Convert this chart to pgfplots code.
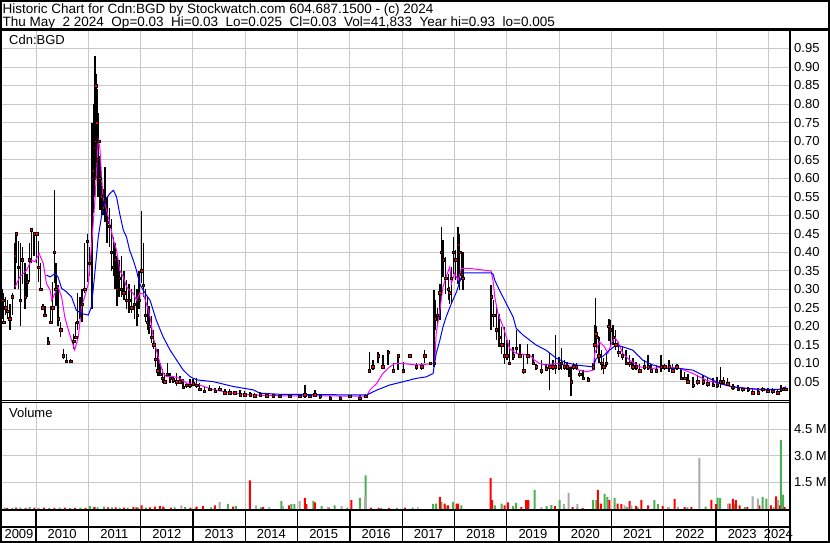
\documentclass[border=0pt]{standalone}
\usepackage{pgfplots}
\pgfplotsset{compat=1.18}
\usepackage{pgfplotstable}
\usepackage{fontspec}
\setmainfont{Liberation Sans}

\definecolor{gridgray}{RGB}{200,200,200}
\definecolor{volgreen}{RGB}{76,175,80}
\definecolor{volgray}{RGB}{170,170,170}
\definecolor{mamag}{RGB}{255,0,255}
\definecolor{mablue}{RGB}{0,0,255}
\definecolor{barred}{RGB}{255,0,0}

% daily bars: low, high, close
\pgfplotstableread{
x lo hi cl
2009.33 0.245 0.36 0.30
2009.36 0.22 0.30 0.27
2009.38 0.21 0.29 0.21
2009.42 0.23 0.28 0.25
2009.46 0.22 0.27 0.24
2009.50 0.19 0.26 0.22
2009.55 0.23 0.29 0.28
2009.60 0.30 0.425 0.39
2009.62 0.37 0.45 0.45
2009.66 0.30 0.43 0.36
2009.70 0.20 0.425 0.27
2009.74 0.315 0.415 0.38
2009.79 0.245 0.37 0.28
2009.83 0.28 0.34 0.32
2009.87 0.32 0.425 0.38
2009.91 0.37 0.465 0.46
2009.96 0.39 0.45 0.45
2010.01 0.37 0.45 0.45
2010.05 0.32 0.43 0.36
2010.09 0.30 0.37 0.30
2010.13 0.245 0.26 0.25
2010.17 0.23 0.255 0.23
2010.23 0.15 0.17 0.155
2010.28 0.21 0.255 0.21
2010.32 0.21 0.32 0.25
2010.35 0.317 0.568 0.40
2010.38 0.255 0.37 0.30
2010.42 0.20 0.31 0.22
2010.47 0.17 0.21 0.19
2010.52 0.11 0.137 0.12
2010.58 0.105 0.125 0.105
2010.66 0.10 0.11 0.105
2010.72 0.137 0.18 0.16
2010.76 0.165 0.21 0.17
2010.79 0.19 0.29 0.21
2010.84 0.22 0.28 0.23
2010.88 0.21 0.30 0.26
2010.93 0.29 0.425 0.30
2010.98 0.32 0.45 0.43
2011.02 0.335 0.415 0.37
2011.07 0.245 0.748 0.60
2011.09 0.505 0.748 0.62
2011.11 0.55 0.80 0.68
2011.13 0.595 0.93 0.70
2011.14 0.64 0.93 0.85
2011.16 0.60 0.88 0.75
2011.17 0.55 0.84 0.65
2011.19 0.56 0.72 0.70
2011.20 0.55 0.775 0.70
2011.22 0.515 0.66 0.60
2011.25 0.50 0.62 0.55
2011.28 0.50 0.57 0.52
2011.32 0.48 0.63 0.54
2011.36 0.425 0.55 0.48
2011.40 0.415 0.52 0.47
2011.44 0.35 0.49 0.40
2011.48 0.335 0.44 0.36
2011.51 0.30 0.425 0.38
2011.55 0.255 0.39 0.30
2011.59 0.28 0.38 0.33
2011.63 0.28 0.39 0.30
2011.68 0.27 0.35 0.29
2011.73 0.245 0.325 0.27
2011.78 0.235 0.315 0.27
2011.83 0.235 0.30 0.25
2011.88 0.22 0.31 0.26
2011.93 0.20 0.30 0.23
2011.97 0.245 0.35 0.27
2012.02 0.317 0.51 0.35
2012.05 0.28 0.425 0.31
2012.09 0.21 0.30 0.23
2012.13 0.19 0.28 0.21
2012.16 0.18 0.255 0.20
2012.21 0.155 0.227 0.17
2012.25 0.137 0.19 0.15
2012.29 0.09 0.155 0.11
2012.33 0.065 0.137 0.08
2012.37 0.065 0.10 0.07
2012.42 0.047 0.083 0.06
2012.46 0.047 0.074 0.05
2012.51 0.065 0.10 0.07
2012.56 0.047 0.074 0.06
2012.62 0.047 0.065 0.055
2012.69 0.038 0.074 0.05
2012.75 0.047 0.065 0.05
2012.81 0.029 0.056 0.035
2012.88 0.033 0.047 0.04
2012.94 0.033 0.056 0.04
2013.00 0.038 0.056 0.045
2013.07 0.033 0.06 0.04
2013.13 0.025 0.047 0.03
2013.22 0.02 0.038 0.025
2013.32 0.025 0.042 0.03
2013.42 0.02 0.034 0.025
2013.51 0.025 0.038 0.03
2013.61 0.018 0.031 0.02
2013.70 0.015 0.029 0.02
2013.80 0.015 0.025 0.02
2013.90 0.013 0.027 0.015
2013.99 0.013 0.025 0.015
2014.09 0.012 0.021 0.015
2014.18 0.010 0.020 0.012
2014.28 0.012 0.021 0.015
2014.41 0.010 0.020 0.012
2014.53 0.010 0.018 0.012
2014.66 0.005 0.018 0.010
2014.85 0.005 0.015 0.010
2015.04 0.007 0.018 0.010
2015.14 0.007 0.041 0.015
2015.23 0.005 0.018 0.010
2015.33 0.009 0.027 0.015
2015.43 0.003 0.014 0.010
2015.62 0.002 0.011 0.005
2015.81 0.002 0.011 0.005
2016.00 0.005 0.014 0.010
2016.19 0.002 0.014 0.005
2016.30 0.008 0.017 0.010
2016.37 0.077 0.131 0.080
2016.44 0.081 0.108 0.090
2016.54 0.100 0.131 0.120
2016.63 0.090 0.122 0.090
2016.73 0.095 0.135 0.130
2016.83 0.077 0.100 0.080
2016.92 0.081 0.122 0.120
2017.02 0.077 0.104 0.080
2017.14 0.117 0.122 0.120
2017.27 0.081 0.100 0.090
2017.37 0.081 0.100 0.090
2017.43 0.100 0.135 0.120
2017.53 0.095 0.100 0.100
2017.61 0.090 0.297 0.100
2017.63 0.19 0.27 0.22
2017.67 0.20 0.25 0.23
2017.72 0.216 0.315 0.29
2017.75 0.27 0.468 0.40
2017.78 0.333 0.432 0.38
2017.83 0.288 0.387 0.33
2017.88 0.27 0.342 0.30
2017.91 0.261 0.306 0.29
2017.94 0.261 0.36 0.33
2017.98 0.342 0.441 0.40
2018.02 0.324 0.405 0.38
2018.07 0.315 0.468 0.42
2018.10 0.297 0.45 0.40
2018.14 0.324 0.396 0.34
2018.16 0.297 0.40 0.33
2018.70 0.19 0.311 0.28
2018.75 0.198 0.27 0.23
2018.80 0.162 0.252 0.19
2018.85 0.144 0.234 0.17
2018.90 0.126 0.198 0.15
2018.96 0.099 0.198 0.12
2019.00 0.108 0.162 0.12
2019.05 0.099 0.162 0.10
2019.12 0.108 0.144 0.12
2019.18 0.126 0.189 0.14
2019.25 0.117 0.153 0.12
2019.32 0.072 0.126 0.08
2019.40 0.099 0.153 0.12
2019.50 0.099 0.126 0.10
2019.56 0.081 0.099 0.09
2019.66 0.072 0.108 0.08
2019.75 0.081 0.099 0.085
2019.82 0.027 0.127 0.09
2019.88 0.081 0.108 0.09
2019.93 0.072 0.176 0.09
2020.00 0.081 0.117 0.09
2020.04 0.081 0.14 0.10
2020.10 0.081 0.108 0.09
2020.15 0.081 0.104 0.09
2020.19 0.063 0.09 0.07
2020.23 0.010 0.09 0.05
2020.28 0.081 0.10 0.09
2020.33 0.081 0.10 0.09
2020.39 0.063 0.081 0.07
2020.46 0.054 0.081 0.06
2020.55 0.050 0.063 0.055
2020.65 0.081 0.10 0.09
2020.68 0.081 0.203 0.15
2020.70 0.153 0.275 0.18
2020.72 0.127 0.20 0.17
2020.76 0.10 0.171 0.12
2020.81 0.081 0.135 0.10
2020.85 0.072 0.113 0.09
2020.90 0.09 0.126 0.10
2020.95 0.16 0.22 0.20
2020.98 0.144 0.216 0.19
2021.03 0.149 0.203 0.17
2021.08 0.135 0.19 0.15
2021.14 0.117 0.158 0.13
2021.21 0.108 0.144 0.12
2021.28 0.095 0.135 0.10
2021.35 0.09 0.122 0.10
2021.41 0.081 0.113 0.09
2021.47 0.081 0.104 0.09
2021.54 0.077 0.099 0.08
2021.63 0.081 0.108 0.09
2021.70 0.081 0.122 0.09
2021.76 0.077 0.099 0.08
2021.86 0.077 0.095 0.08
2021.95 0.077 0.122 0.09
2022.02 0.081 0.099 0.09
2022.10 0.077 0.108 0.09
2022.17 0.077 0.099 0.08
2022.25 0.081 0.099 0.09
2022.33 0.054 0.086 0.06
2022.40 0.054 0.077 0.06
2022.46 0.045 0.072 0.05
2022.56 0.032 0.063 0.04
2022.65 0.041 0.068 0.05
2022.75 0.041 0.068 0.05
2022.84 0.036 0.063 0.045
2022.94 0.036 0.059 0.04
2023.02 0.032 0.063 0.04
2023.08 0.032 0.09 0.05
2023.14 0.045 0.063 0.05
2023.22 0.041 0.059 0.045
2023.32 0.027 0.045 0.035
2023.42 0.027 0.041 0.03
2023.51 0.023 0.036 0.03
2023.61 0.023 0.036 0.03
2023.70 0.018 0.032 0.02
2023.80 0.014 0.032 0.02
2023.89 0.023 0.036 0.03
2023.99 0.023 0.032 0.025
2024.08 0.018 0.032 0.025
2024.18 0.014 0.027 0.02
2024.24 0.023 0.041 0.03
2024.29 0.027 0.036 0.03
2024.33 0.027 0.036 0.03
}\pricedata

% short moving average (magenta)
\pgfplotstableread{
x y
2009.60 0.306
2009.69 0.333
2009.82 0.351
2009.91 0.378
2009.98 0.374
2010.06 0.396
2010.14 0.369
2010.20 0.315
2010.27 0.297
2010.30 0.270
2010.36 0.288
2010.42 0.306
2010.49 0.279
2010.55 0.225
2010.62 0.189
2010.68 0.162
2010.74 0.136
2010.81 0.171
2010.87 0.252
2010.93 0.279
2011.00 0.315
2011.06 0.414
2011.13 0.549
2011.19 0.702
2011.22 0.684
2011.25 0.612
2011.28 0.549
2011.35 0.513
2011.41 0.477
2011.48 0.432
2011.54 0.405
2011.60 0.351
2011.67 0.333
2011.73 0.306
2011.79 0.297
2011.86 0.288
2011.92 0.270
2011.98 0.288
2012.05 0.288
2012.11 0.261
2012.18 0.225
2012.24 0.171
2012.30 0.136
2012.37 0.100
2012.43 0.073
2012.49 0.064
2012.62 0.064
2012.75 0.059
2012.88 0.046
2013.00 0.046
2013.13 0.041
2013.39 0.028
2013.77 0.019
2014.15 0.014
2014.66 0.012
2016.32 0.011
2016.38 0.027
2016.51 0.045
2016.63 0.072
2016.76 0.090
2016.86 0.099
2017.02 0.099
2017.27 0.095
2017.62 0.099
2017.65 0.180
2017.72 0.243
2017.78 0.306
2017.84 0.333
2017.91 0.360
2017.94 0.315
2018.00 0.342
2018.07 0.324
2018.13 0.356
2018.29 0.356
2018.70 0.349
2018.74 0.320
2018.77 0.279
2018.83 0.234
2018.93 0.198
2018.99 0.171
2019.05 0.140
2019.18 0.126
2019.44 0.122
2019.53 0.108
2019.63 0.099
2019.75 0.095
2019.95 0.099
2020.14 0.095
2020.26 0.090
2020.39 0.081
2020.52 0.077
2020.65 0.081
2020.68 0.126
2020.77 0.158
2020.87 0.144
2020.93 0.126
2021.00 0.153
2021.06 0.171
2021.12 0.158
2021.22 0.126
2021.35 0.108
2021.54 0.090
2021.79 0.086
2022.05 0.090
2022.30 0.086
2022.56 0.072
2022.81 0.054
2023.07 0.045
2023.32 0.036
2023.58 0.032
2023.89 0.027
2024.21 0.029
2024.34 0.035
}\mashort

% long moving average (blue)
\pgfplotstableread{
x y
2010.20 0.338
2010.27 0.333
2010.36 0.342
2010.42 0.333
2010.49 0.302
2010.58 0.293
2010.68 0.279
2010.77 0.243
2010.87 0.234
2011.00 0.230
2011.06 0.252
2011.13 0.351
2011.19 0.441
2011.25 0.495
2011.32 0.540
2011.41 0.558
2011.48 0.567
2011.54 0.549
2011.60 0.504
2011.67 0.459
2011.73 0.441
2011.79 0.405
2011.86 0.378
2011.92 0.351
2011.98 0.315
2012.05 0.297
2012.11 0.284
2012.18 0.270
2012.24 0.243
2012.30 0.216
2012.43 0.171
2012.56 0.136
2012.69 0.108
2012.81 0.082
2012.94 0.064
2013.07 0.055
2013.39 0.050
2013.77 0.037
2014.15 0.028
2014.28 0.019
2014.66 0.016
2016.32 0.014
2016.51 0.027
2016.76 0.041
2017.02 0.050
2017.27 0.059
2017.46 0.063
2017.59 0.072
2017.65 0.126
2017.72 0.162
2017.78 0.198
2017.84 0.225
2017.94 0.261
2018.04 0.293
2018.13 0.333
2018.16 0.344
2018.70 0.344
2018.74 0.340
2018.77 0.324
2018.86 0.297
2018.99 0.261
2019.12 0.225
2019.18 0.194
2019.31 0.176
2019.44 0.162
2019.56 0.149
2019.75 0.135
2019.95 0.113
2020.14 0.101
2020.33 0.095
2020.65 0.090
2020.71 0.113
2020.84 0.119
2020.96 0.135
2021.09 0.149
2021.22 0.144
2021.41 0.135
2021.60 0.108
2021.79 0.095
2022.05 0.086
2022.30 0.086
2022.56 0.081
2022.81 0.063
2023.07 0.045
2023.32 0.036
2023.58 0.032
2023.89 0.029
2024.21 0.029
2024.34 0.036
}\malong

% volume in millions
\pgfplotstableread{
x v
2009.40 0.06
2009.55 0.05
2009.70 0.06
2009.88 0.10
2010.05 0.05
2010.25 0.05
2010.45 0.06
2010.65 0.05
2010.85 0.06
2011.03 0.15
2011.10 0.10
2011.18 0.08
2011.30 0.12
2011.45 0.08
2011.60 0.06
2011.75 0.06
2011.95 0.07
2012.10 0.06
2012.45 0.06
2012.65 0.08
2012.85 0.10
2013.05 0.07
2013.35 0.08
2013.67 0.28
2013.82 0.15
2014.30 0.08
2014.69 0.43
2014.88 0.26
2014.94 0.26
2015.30 0.45
2015.46 0.15
2015.71 0.20
2015.95 0.06
2016.19 0.62
2016.30 1.89
2016.60 0.05
2016.90 0.05
2017.20 0.06
2017.59 0.26
2017.65 0.30
2017.75 0.39
2017.83 0.20
2017.97 0.39
2018.13 0.20
2018.77 0.20
2018.90 0.30
2019.12 0.15
2019.18 0.33
2019.40 0.10
2019.53 1.08
2019.76 0.15
2019.85 0.21
2020.01 0.49
2020.10 0.10
2020.35 0.06
2020.65 0.49
2020.71 0.49
2020.87 0.85
2020.92 0.67
2021.06 0.60
2021.30 0.10
2021.50 0.08
2021.82 0.49
2021.89 0.26
2022.10 0.06
2022.45 0.08
2022.80 0.12
2023.03 0.64
2023.08 0.60
2023.35 0.30
2023.55 0.10
2023.89 0.67
2023.96 0.58
2024.10 0.08
2024.24 3.90
2024.28 0.80
}\volup

\pgfplotstableread{
x v
2009.45 0.05
2009.62 0.06
2009.80 0.05
2009.97 0.06
2010.15 0.06
2010.35 0.05
2010.55 0.06
2010.75 0.05
2010.95 0.05
2011.12 0.10
2011.38 0.08
2011.52 0.08
2011.68 0.06
2011.86 0.10
2011.92 0.08
2012.02 0.20
2012.18 0.08
2012.27 0.12
2012.37 0.15
2012.43 0.12
2012.58 0.06
2012.95 0.06
2013.07 0.12
2013.19 0.15
2013.42 0.20
2013.77 0.12
2014.09 1.61
2014.34 0.10
2014.84 0.20
2015.14 0.62
2015.17 0.26
2015.33 0.36
2015.60 0.06
2016.03 0.49
2016.40 0.06
2016.55 0.05
2016.75 0.05
2017.05 0.06
2017.72 0.67
2017.81 0.30
2017.88 0.20
2018.04 0.30
2018.07 0.30
2018.69 1.74
2018.72 0.49
2018.96 0.20
2019.02 0.36
2019.28 0.10
2019.37 0.49
2019.41 0.49
2019.92 0.15
2020.26 0.10
2020.45 0.05
2020.74 1.07
2020.80 0.30
2020.96 0.50
2021.12 0.30
2021.19 0.26
2021.35 0.43
2021.47 0.15
2021.57 0.50
2021.70 0.20
2021.98 0.15
2022.21 0.56
2022.40 0.10
2022.53 0.10
2022.91 0.50
2023.00 0.26
2023.26 0.30
2023.32 0.56
2023.38 0.49
2023.45 0.20
2023.60 0.10
2023.83 0.20
2024.05 0.20
2024.15 0.71
2024.21 0.20
2024.31 0.10
}\voldown

\pgfplotstableread{
x v
2012.78 0.20
2013.51 0.39
2014.21 0.20
2014.46 0.10
2014.72 0.15
2015.04 0.43
2015.58 0.10
2015.84 0.15
2016.29 0.71
2017.30 0.08
2019.66 0.10
2020.09 0.26
2020.18 0.90
2020.35 0.26
2021.25 0.20
2021.38 0.20
2022.08 0.10
2022.27 0.12
2022.68 2.89
2023.23 0.30
2023.70 0.71
2023.80 0.58
2024.18 0.49
}\volflat

\begin{document}
\begin{tikzpicture}[x=1bp, y=1bp, font=\fontsize{13bp}{15bp}\selectfont]
\useasboundingbox (0,0) rectangle (830,543);
\fill[white] (0,0) rectangle (830,543);

\pgfplotsset{
  panel/.style={
    scale only axis, anchor=south west,
    width=786.5bp, xmin=2009.35, xmax=2024.385,
    xtick={2010,2011,2012,2013,2014,2015,2016,2017,2018,2019,2020,2021,2022,2023,2024},
    xticklabels={}, major tick length=0pt,
    xmajorgrids, ymajorgrids,
    grid style={gridgray, line width=1bp},
    axis line style={draw=none},
    yticklabel pos=right,
    yticklabel style={anchor=west, inner sep=0pt, xshift=5.5bp},
  },
  volbar/.style={ybar, bar width=2bp, bar shift=0pt, draw=none, fill=#1},
}

% price panel
\begin{axis}[panel, at={(2bp,142.8bp)}, height=370.2bp,
  ymin=0, ymax=1.0,
  ytick={0.05,0.1,0.15,0.2,0.25,0.3,0.35,0.4,0.45,0.5,0.55,0.6,0.65,0.7,0.75,0.8,0.85,0.9,0.95},
  yticklabels={0.05,0.10,0.15,0.20,0.25,0.30,0.35,0.40,0.45,0.50,0.55,0.60,0.65,0.70,0.75,0.80,0.85,0.90,0.95}]
\addplot [draw=none, error bars/.cd, y dir=both, y explicit, error mark=none,
  error bar style={draw=black, line width=1.4bp}]
  table [x=x, y=cl, y error plus expr=\thisrow{hi}-\thisrow{cl},
         y error minus expr=\thisrow{cl}-\thisrow{lo}] {\pricedata};
\addplot [only marks, mark=square*, mark size=1.2bp, mark options={draw=none, fill=barred}]
  table [x=x, y=cl] {\pricedata};
\addplot [mamag, line width=1bp] table [x=x, y=y] {\mashort};
\addplot [mablue, line width=1bp] table [x=x, y=y] {\malong};
\end{axis}

% volume panel
\begin{axis}[panel, at={(2bp,34.2bp)}, height=105.8bp,
  ymin=0, ymax=6.0,
  ytick={1.5,3,4.5}, yticklabels={1.5 M,3.0 M,4.5 M}]
\addplot [volbar=volgreen] table [x=x, y=v] {\volup};
\addplot [volbar=barred] table [x=x, y=v] {\voldown};
\addplot [volbar=volgray] table [x=x, y=v] {\volflat};
\end{axis}

% year strip
\begin{axis}[scale only axis, anchor=south west, at={(2bp,2bp)},
  width=786.5bp, height=30bp, xmin=2009.35, xmax=2024.385, ymin=0, ymax=1,
  axis line style={draw=none}, major tick length=0pt, ytick=\empty,
  xtick={2009.675,2010.5,2011.5,2012.5,2013.5,2014.5,2015.5,2016.5,2017.5,2018.5,2019.5,2020.5,2021.5,2022.5,2023.5,2024.19},
  xticklabels={2009,2010,2011,2012,2013,2014,2015,2016,2017,2018,2019,2020,2021,2022,2023,2024},
  xticklabel style={anchor=center, inner sep=0pt, yshift=6.6bp},
  extra x ticks={2010,2011,2012,2013,2014,2015,2016,2017,2018,2019,2020,2021,2022,2023,2024},
  extra x tick labels={},
  extra x tick style={grid=major, major grid style={black, line width=1.3bp}},
  clip=false]
\end{axis}

% frame lines
\draw[black, line width=2.5bp] (0,513.5) -- (830,513.5);
\draw[black, line width=2.6bp] (789.8,513.5) -- (789.8,0);
\draw[black, line width=1bp] (0,142.5) -- (789,142.5);
\draw[black, line width=1bp] (0,140.5) -- (789,140.5);
\draw[black, line width=2.3bp] (0,33.2) -- (789,33.2);
\draw[black, line width=2bp] (0,16) -- (789,16);
\draw[black, line width=2bp] (1,1) rectangle (829,542);

% texts
\begin{scope}[font=\fontsize{13.5bp}{15bp}\selectfont]
\node[anchor=base west, inner sep=0pt] at (2.5,529.7)
  {Historic Chart for Cdn:BGD by Stockwatch.com 604.687.1500 - (c) 2024};
\node[anchor=base west, inner sep=0pt] at (2.5,516.7)
  {Thu May\ \ 2 2024\ \ Op=0.03\ \ Hi=0.03\ \ Lo=0.025\ \ Cl=0.03\ \ Vol=41,833\ \ Year hi=0.93\ \ lo=0.005};
\end{scope}
\node[anchor=base west, inner sep=0pt] at (9,498) {Cdn:BGD};
\node[anchor=base west, inner sep=0pt] at (9,125.7) {Volume};
\end{tikzpicture}
\end{document}
